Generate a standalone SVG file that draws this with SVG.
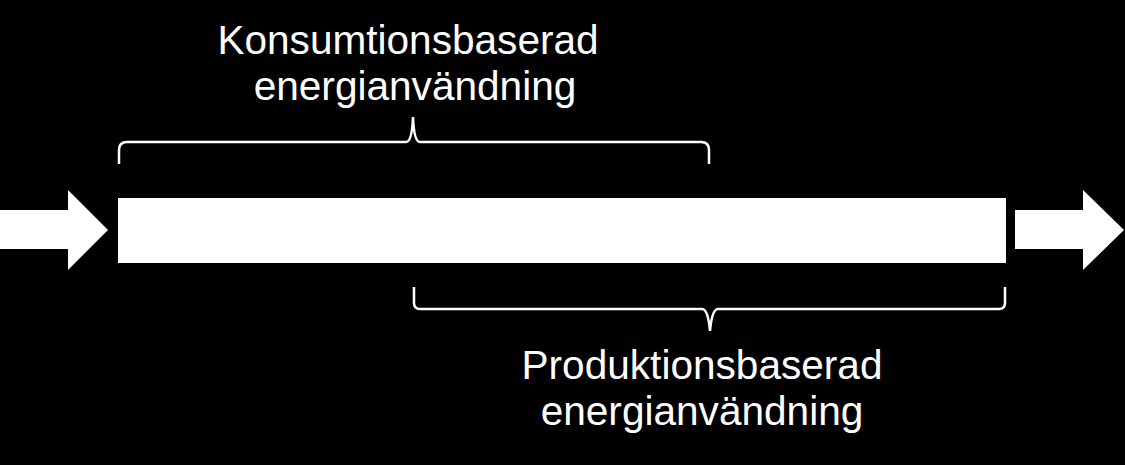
<svg xmlns="http://www.w3.org/2000/svg" width="1125" height="465" viewBox="0 0 1125 465">
<style>
.t{font-family:"Liberation Sans",Arial,sans-serif;font-size:40.6px;fill:#fff;text-anchor:middle}
.b{fill:none;stroke:#fff;stroke-width:2.5}
</style>
<rect width="1125" height="465" fill="#000"/>
<g id="in-arrow"><polygon points="0,210 68,210 68,190 108,230 68,270 68,249 0,249" fill="#fff"/></g>
<g id="bar"><rect x="118" y="198" width="888" height="65" fill="#fff"/></g>
<g id="out-arrow"><polygon points="1015,210 1083,210 1083,190 1124,230 1083,270 1083,249 1015,249" fill="#fff"/></g>
<g id="connectors">
<path class="b" d="M119,164 V150 Q119,142 127,142 H406 Q412,142 413,117 Q414,142 420,142 H701 Q709,142 709,150 V164"/>
<path class="b" d="M414,287 V303 Q414,309 420,309 H702 Q708,309 710,331 Q712,309 718,309 H999 Q1005,309 1005,303 V287"/>
</g>
<g id="label-consumption"><text class="t" x="408" y="54">Konsumtionsbaserad</text><text class="t" x="415" y="100">energianvändning</text></g>
<g id="label-production"><text class="t" x="702" y="379">Produktionsbaserad</text><text class="t" x="702" y="425">energianvändning</text></g>
</svg>
